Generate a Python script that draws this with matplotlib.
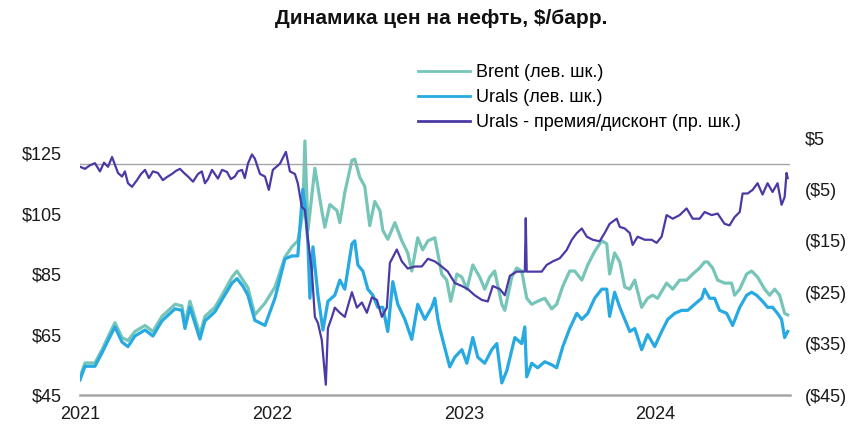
"""Oil price dynamics: Brent, Urals and the Urals premium/discount to Brent."""

import matplotlib

matplotlib.use("Agg")
import matplotlib.pyplot as plt
from matplotlib.ticker import FixedLocator, FuncFormatter


TITLE = "Динамика цен на нефть, $/барр."
LABEL_BRENT = "Brent (лев. шк.)"
LABEL_URALS = "Urals (лев. шк.)"
LABEL_SPREAD = "Urals - премия/дисконт (пр. шк.)"

# Time is kept as decimal years (2021.0 = 1 Jan 2021).
brent_t = [
    2021.000, 2021.026, 2021.078, 2021.115, 2021.146, 2021.182, 2021.219, 2021.250,
    2021.286, 2021.339, 2021.380, 2021.427, 2021.495, 2021.531, 2021.547, 2021.573,
    2021.625, 2021.651, 2021.703, 2021.740, 2021.792, 2021.818, 2021.849, 2021.875,
    2021.911, 2021.964, 2022.016, 2022.068, 2022.104, 2022.135, 2022.161, 2022.172,
    2022.188, 2022.224, 2022.260, 2022.276, 2022.302, 2022.339, 2022.354, 2022.380,
    2022.417, 2022.432, 2022.458, 2022.484, 2022.510, 2022.536, 2022.563, 2022.578,
    2022.604, 2022.641, 2022.677, 2022.708, 2022.729, 2022.760, 2022.786, 2022.813,
    2022.849, 2022.885, 2022.911, 2022.932, 2022.964, 2022.990, 2023.016, 2023.047,
    2023.083, 2023.109, 2023.135, 2023.161, 2023.198, 2023.214, 2023.250, 2023.276,
    2023.302, 2023.328, 2023.354, 2023.385, 2023.422, 2023.458, 2023.484, 2023.516,
    2023.552, 2023.578, 2023.615, 2023.646, 2023.682, 2023.719, 2023.745, 2023.760,
    2023.786, 2023.813, 2023.839, 2023.865, 2023.891, 2023.927, 2023.958, 2023.984,
    2024.010, 2024.057, 2024.089, 2024.125, 2024.161, 2024.193, 2024.229, 2024.255,
    2024.271, 2024.297, 2024.323, 2024.359, 2024.396, 2024.411, 2024.438, 2024.474,
    2024.500, 2024.531, 2024.568, 2024.594, 2024.620, 2024.646, 2024.672, 2024.688,
]
brent = [
    51.0, 55.6, 55.6, 60.0, 64.2, 68.9, 64.0, 63.0,
    66.0, 68.0, 66.0, 71.0, 75.0, 74.5, 68.5, 76.0,
    65.0, 71.0, 74.0, 78.0, 84.0, 86.0, 83.0, 80.5,
    71.5, 75.4, 80.7, 90.6, 94.0, 96.0, 105.0, 129.0,
    99.5, 120.0, 106.0, 100.5, 108.0, 106.0, 102.0, 112.0,
    122.6, 123.0, 117.0, 114.0, 101.0, 109.0, 106.0, 99.5,
    96.5, 102.0, 96.0, 92.0, 86.0, 97.0, 93.0, 96.0,
    97.0, 85.0, 83.0, 76.0, 85.0, 84.0, 80.0, 88.0,
    84.0, 80.0, 84.0, 86.0, 75.0, 73.0, 84.0, 87.0,
    86.0, 77.0, 75.0, 76.0, 77.0, 73.5, 75.0, 81.0,
    86.0, 86.0, 83.0, 88.0, 92.5, 96.0, 95.0, 85.0,
    92.0, 89.0, 80.7, 80.0, 83.0, 74.0, 77.0, 78.0,
    77.0, 82.0, 80.0, 83.0, 83.0, 85.0, 87.0, 89.0,
    89.0, 87.0, 83.0, 82.0, 82.0, 78.0, 80.0, 85.0,
    86.0, 84.0, 80.0, 78.0, 80.0, 78.0, 72.0, 71.5,
]

urals_t = [
    2021.000, 2021.026, 2021.078, 2021.115, 2021.146, 2021.182, 2021.219, 2021.250,
    2021.286, 2021.339, 2021.380, 2021.427, 2021.495, 2021.531, 2021.547, 2021.573,
    2021.625, 2021.651, 2021.703, 2021.740, 2021.792, 2021.818, 2021.849, 2021.875,
    2021.911, 2021.964, 2022.016, 2022.068, 2022.104, 2022.135, 2022.161, 2022.172,
    2022.188, 2022.198, 2022.214, 2022.240, 2022.266, 2022.292, 2022.328, 2022.354,
    2022.380, 2022.417, 2022.432, 2022.448, 2022.474, 2022.500, 2022.526, 2022.552,
    2022.578, 2022.604, 2022.630, 2022.656, 2022.693, 2022.729, 2022.760, 2022.797,
    2022.833, 2022.849, 2022.865, 2022.875, 2022.901, 2022.927, 2022.953, 2022.990,
    2023.016, 2023.047, 2023.073, 2023.109, 2023.146, 2023.172, 2023.198, 2023.224,
    2023.266, 2023.302, 2023.318, 2023.328, 2023.354, 2023.385, 2023.422, 2023.458,
    2023.484, 2023.516, 2023.552, 2023.589, 2023.615, 2023.646, 2023.682, 2023.719,
    2023.745, 2023.760, 2023.786, 2023.813, 2023.839, 2023.865, 2023.891, 2023.927,
    2023.958, 2023.995, 2024.031, 2024.063, 2024.099, 2024.135, 2024.167, 2024.203,
    2024.240, 2024.255, 2024.281, 2024.307, 2024.333, 2024.370, 2024.401, 2024.438,
    2024.474, 2024.500, 2024.526, 2024.557, 2024.583, 2024.609, 2024.635, 2024.656,
    2024.672, 2024.688,
]
urals = [
    50.0, 54.5, 54.5, 59.0, 63.0, 67.5, 62.5, 61.0,
    64.5, 66.5, 64.5, 69.5, 73.5, 73.0, 67.0, 74.0,
    63.5, 69.5, 72.5, 76.5, 82.0, 83.5, 81.0, 78.0,
    69.7, 68.0, 77.0, 90.0, 91.0, 91.0, 113.0, 108.0,
    95.0, 77.0, 94.0, 78.0, 66.5, 76.0, 78.0, 83.0,
    80.0, 95.0, 96.0, 88.0, 86.0, 80.0, 78.0, 74.0,
    74.0, 66.0, 82.5, 75.0, 70.0, 63.4, 75.0, 70.0,
    74.0, 77.0, 70.0, 67.0, 60.6, 54.3, 57.5, 60.0,
    55.5, 64.0, 57.5, 55.5, 60.0, 62.0, 49.0, 53.0,
    64.0, 62.0, 67.5, 51.0, 55.5, 54.0, 56.0, 55.0,
    54.0, 61.0, 67.0, 72.0, 70.0, 72.0, 77.0, 80.0,
    80.0, 71.0, 79.0, 74.0, 70.0, 66.0, 67.0, 60.0,
    65.0, 61.0, 66.0, 70.0, 72.0, 73.0, 73.0, 75.0,
    77.0, 80.0, 77.0, 77.0, 73.0, 72.0, 68.0, 74.0,
    78.0, 79.0, 78.0, 76.0, 74.0, 74.0, 72.0, 70.0,
    64.0, 66.0,
]

spread_t = [
    2021.000, 2021.026, 2021.052, 2021.078, 2021.104, 2021.125, 2021.146, 2021.167,
    2021.198, 2021.219, 2021.234, 2021.250, 2021.271, 2021.297, 2021.318, 2021.339,
    2021.359, 2021.380, 2021.406, 2021.432, 2021.453, 2021.479, 2021.500, 2021.521,
    2021.542, 2021.563, 2021.589, 2021.615, 2021.635, 2021.651, 2021.667, 2021.688,
    2021.719, 2021.740, 2021.766, 2021.786, 2021.807, 2021.823, 2021.844, 2021.859,
    2021.875, 2021.896, 2021.911, 2021.938, 2021.964,
    2021.984, 2022.005, 2022.042, 2022.073, 2022.094, 2022.120, 2022.135, 2022.156,
    2022.172, 2022.188, 2022.208, 2022.224, 2022.240, 2022.260, 2022.281, 2022.292,
    2022.313, 2022.328, 2022.354, 2022.380, 2022.417, 2022.443, 2022.469, 2022.495,
    2022.521, 2022.547, 2022.573, 2022.599, 2022.615, 2022.651, 2022.677, 2022.708,
    2022.745, 2022.781, 2022.813, 2022.849, 2022.885, 2022.917, 2022.953, 2022.990,
    2023.021, 2023.057, 2023.094, 2023.125, 2023.151, 2023.188, 2023.214, 2023.240,
    2023.276, 2023.302, 2023.318, 2023.323, 2023.328, 2023.370, 2023.406, 2023.432,
    2023.464, 2023.500, 2023.536, 2023.563, 2023.589, 2023.615, 2023.641, 2023.672,
    2023.708, 2023.734, 2023.760, 2023.797, 2023.813, 2023.839, 2023.865, 2023.880,
    2023.906, 2023.943, 2023.979, 2024.005, 2024.031, 2024.057, 2024.089, 2024.125,
    2024.161, 2024.193, 2024.229, 2024.255, 2024.292, 2024.323, 2024.359, 2024.385,
    2024.411, 2024.438, 2024.453, 2024.479, 2024.505, 2024.531, 2024.557, 2024.583,
    2024.609, 2024.635, 2024.656, 2024.672, 2024.682, 2024.688,
]
spread = [
    -0.6, -1.0, -0.3, 0.1, -1.5, 0.2, -0.6, 1.3,
    -1.8, -2.5, -1.5, -3.8, -4.5, -3.2, -2.0, -1.2,
    -2.8, -1.5, -1.8, -3.2, -2.6, -2.0, -1.4, -1.0,
    -1.8, -2.5, -3.5, -2.0, -1.5, -3.8, -3.0, -1.2,
    -2.9, -1.2, -1.6, -3.0, -2.5, -1.5, -1.2, -2.8,
    0.0, 1.8, 1.0, -2.0, -2.5,
    -5.1, -1.2, 0.0, 2.3, -1.5, -2.0, -3.8, -8.4,
    -9.0, -14.8, -20.7, -29.8, -31.0, -34.3, -43.0, -32.0,
    -29.8, -28.0, -29.0, -29.8, -25.0, -28.0, -27.0, -29.0,
    -26.0, -26.5, -29.8, -28.0, -19.3, -16.7, -19.0, -20.4,
    -20.0, -20.0, -18.5, -19.0, -20.0, -21.0, -23.2, -23.8,
    -24.4, -25.6, -26.5, -26.8, -23.8, -24.4, -25.6, -21.8,
    -21.0, -21.0, -21.0, -10.6, -21.0, -21.0, -21.0, -19.7,
    -19.0, -18.4, -16.8, -14.8, -13.5, -12.6, -14.2, -14.8,
    -15.1, -13.5, -11.7, -10.7, -12.3, -12.6, -13.5, -15.8,
    -14.2, -14.8, -14.8, -15.4, -14.2, -10.0, -10.7, -10.0,
    -8.7, -10.7, -10.7, -9.4, -10.0, -9.7, -11.7, -12.0,
    -10.4, -9.4, -5.8, -5.8, -5.1, -3.8, -6.0, -3.8,
    -5.5, -3.8, -8.0, -6.5, -1.8, -2.8,
]

YEARS = [2021, 2022, 2023, 2024]
LEFT_TICKS = [45, 65, 85, 105, 125]
RIGHT_TICKS = [-45, -35, -25, -15, -5, 5]

COLORS = {"brent": "#76c5b8", "urals": "#27a9e1", "spread": "#4b3aa6"}
GRID_GRAY = "#a6a6a6"
FONT = "Liberation Sans"


def money(value, _pos=None):
    return f"${value:.0f}" if value >= 0 else f"(${abs(value):.0f})"


def main():
    plt.rcParams["font.family"] = [FONT, "DejaVu Sans"]

    fig = plt.figure(figsize=(8.63, 4.38), dpi=100)
    ax = fig.add_axes([80 / 863, 43 / 438, 710 / 863, 257 / 438])
    ax2 = ax.twinx()

    ax.plot(brent_t, brent, color=COLORS["brent"], lw=2.3, label=LABEL_BRENT)
    ax.plot(urals_t, urals, color=COLORS["urals"], lw=2.3, label=LABEL_URALS)
    ax2.axhline(0, color=GRID_GRAY, lw=1.0, zorder=0)
    ax2.plot(spread_t, spread, color=COLORS["spread"], lw=1.6, label=LABEL_SPREAD)

    ax.set_xlim(2021.0, 2024.70)
    ax.set_ylim(45, 130)
    ax2.set_ylim(-45, 5)

    ax.xaxis.set_major_locator(FixedLocator(YEARS))
    ax.xaxis.set_major_formatter(FuncFormatter(lambda v, _p: f"{v:.0f}"))
    ax.yaxis.set_major_locator(FixedLocator(LEFT_TICKS))
    ax.yaxis.set_major_formatter(FuncFormatter(money))
    ax2.yaxis.set_major_locator(FixedLocator(RIGHT_TICKS))
    ax2.yaxis.set_major_formatter(FuncFormatter(money))

    for axis in (ax, ax2):
        for side in ("top", "left", "right", "bottom"):
            axis.spines[side].set_visible(False)
        axis.tick_params(length=0, labelsize=13, colors="#1a1a1a")
    ax.spines["bottom"].set_visible(True)
    ax.spines["bottom"].set_color(GRID_GRAY)
    ax.spines["bottom"].set_linewidth(1.8)
    ax.tick_params(axis="y", pad=13)
    ax.tick_params(axis="x", pad=8)
    ax2.tick_params(axis="y", pad=11)

    handles = ax.get_lines() + [ax2.get_lines()[-1]]
    leg = fig.legend(
        handles,
        [h.get_label() for h in handles],
        loc="upper left",
        bbox_to_anchor=(418 / 863, 1 - 64 / 438),
        frameon=False,
        fontsize=13,
        handlelength=2.9,
        handletextpad=0.3,
        labelspacing=0.45,
        borderpad=0,
        borderaxespad=0,
    )
    for line in leg.get_lines():
        line.set_linewidth(2.0)

    fig.text(0.511, 1 - 19 / 438, TITLE, ha="center", va="center",
             fontsize=15, fontweight="bold", color="#111111")

    fig.savefig("out.png", dpi=100)
    plt.close(fig)


if __name__ == "__main__":
    main()
